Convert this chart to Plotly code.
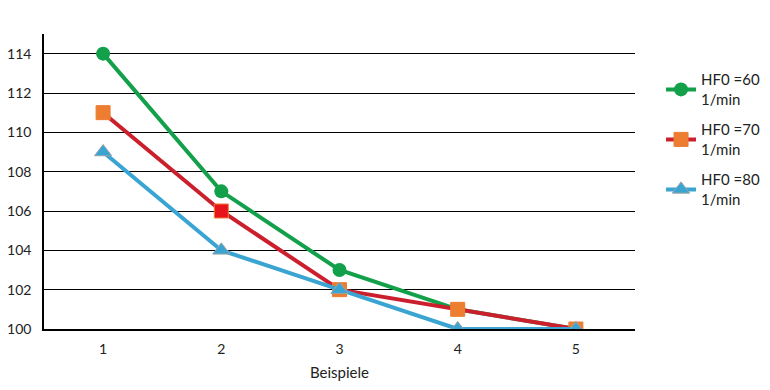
import plotly.graph_objects as go

categories = [1, 2, 3, 4, 5]
hf60 = [114, 107, 103, 101, 100]
hf70 = [111, 106, 102, 101, 100]
hf80 = [109, 104, 102, 100, 100]
names = ["HF0 =60<br>1/min", "HF0 =70<br>1/min", "HF0 =80<br>1/min"]

fig = go.Figure()
fig.add_trace(go.Scatter(
    x=categories, y=hf60, name=names[0], mode="lines+markers", legendgroup="a",
    line=dict(color="#12A04A", width=4),
    marker=dict(symbol="circle", size=14, color="#12A04A"),
))
fig.add_trace(go.Scatter(
    x=categories, y=hf70, name=names[1], mode="lines+markers", legendgroup="b",
    line=dict(color="#CC1F2E", width=4),
    marker=dict(symbol="square", size=14,
                color=["#ED7D31", "#E8141C", "#ED7D31", "#ED7D31", "#ED7D31"],
                line=dict(color="#ED7D31", width=1)),
))
fig.add_trace(go.Scatter(
    x=categories, y=hf80, name=names[2], mode="lines+markers", legendgroup="c",
    line=dict(color="#3AA5D2", width=4),
    marker=dict(symbol="triangle-up", size=15, color="#3AA5D2",
                line=dict(color="#9AA3A8", width=1)),
))

fig.update_layout(
    width=762, height=382,
    margin=dict(l=36, r=135, t=26, b=61),
    paper_bgcolor="white", plot_bgcolor="white",
    font=dict(family="Lato, Open Sans, sans-serif", size=14, color="#222"),
    showlegend=True,
    legend=dict(xref="container", yref="container", x=0.857, y=0.855,
                xanchor="left", yanchor="top",
                tracegroupgap=8, font=dict(size=15), bgcolor="rgba(0,0,0,0)"),
    xaxis=dict(
        range=[0.5, 5.5], tickvals=categories, ticktext=[str(c) for c in categories],
        showgrid=False, zeroline=False, showline=True, linecolor="#000", linewidth=1.5,
        ticks="", ticklabelstandoff=6, automargin=False,
        title=dict(text="Beispiele", font=dict(size=15), standoff=12),
    ),
    yaxis=dict(
        range=[100, 115], tick0=100, dtick=2, showgrid=True, gridcolor="#000",
        gridwidth=1, zeroline=False, showline=True, linecolor="#000", linewidth=1.5,
        ticks="", ticklabelstandoff=8, automargin=False,
    ),
)

fig.write_html("out.html")
